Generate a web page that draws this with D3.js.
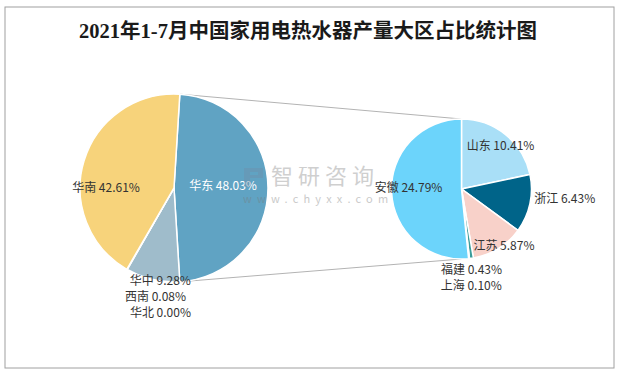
<!DOCTYPE html>
<html>
<head>
<meta charset="utf-8">
<script src="https://cdn.jsdelivr.net/npm/d3@7"></script>
<style>
  body { margin: 0; background: #fff; }
  svg text { font-family: "Noto Sans CJK SC", "Noto Sans", sans-serif; }
</style>
</head>
<body>
<svg id="chart"></svg>
<script>
var width = 619, height = 373;

// main pie: region shares (华东 is split out into the second pie)
const mainNames = ["华东", "华中", "西南", "华北", "华南"];
const mainValues = [48.03, 9.28, 0.08, 0.00, 42.61];
const mainColors = ["#60a3c3", "#9fbccb", "#8fb0c0", "#8fb0c0", "#f7d37b"];

// second pie: provinces of 华东
const subNames = ["山东", "浙江", "江苏", "福建", "上海", "安徽"];
const subValues = [10.41, 6.43, 5.87, 0.43, 0.10, 24.79];
const subColors = ["#a9dff7", "#006489", "#f8d1c9", "#3b9c9a", "#8fd6d6", "#6cd4fb"];

const svg = d3.select("#chart").attr("width", width).attr("height", height);

// frame
svg.append("rect")
    .attr("x", 5).attr("y", 7)
    .attr("width", 609).attr("height", 361)
    .attr("fill", "#fff")
    .attr("stroke", "#a0a0a0")
    .attr("stroke-width", 1);

svg.append("text")
    .attr("x", 308).attr("y", 38)
    .attr("text-anchor", "middle")
    .style("font-family", "'Liberation Serif', 'Noto Sans CJK SC', serif")
    .style("font-weight", "bold")
    .style("font-size", "20.5px")
    .attr("fill", "#1a1a1a")
    .text("2021年1-7月中国家用电热水器产量大区占比统计图");

// geometry
const main = {cx: 174, cy: 188, r: 94};
const sub = {cx: 461.5, cy: 189, r: 70};

const otherShare = mainValues[0] / d3.sum(mainValues);
const mainStart = Math.PI / 2 - otherShare * Math.PI;

const mainPie = d3.pie().sort(null).startAngle(mainStart).endAngle(mainStart + 2 * Math.PI);
const subPie = d3.pie().sort(null);

const mainArcs = mainPie(mainValues);
const subArcs = subPie(subValues);

const mainArc = d3.arc().innerRadius(0).outerRadius(main.r);
const subArc = d3.arc().innerRadius(0).outerRadius(sub.r);
const mainMid = d3.arc().innerRadius(main.r * 0.5).outerRadius(main.r * 0.5);
const subMid = d3.arc().innerRadius(sub.r * 0.5).outerRadius(sub.r * 0.5);

// connector lines from the split slice to the second pie
function polar(c, a) {
    return [c.cx + c.r * Math.sin(a), c.cy - c.r * Math.cos(a)];
}
const p1 = polar(main, mainArcs[0].startAngle);
const p2 = polar(main, mainArcs[0].endAngle);
svg.append("line")
    .attr("x1", p1[0]).attr("y1", p1[1])
    .attr("x2", sub.cx).attr("y2", sub.cy - sub.r)
    .attr("stroke", "#b3b3b3").attr("stroke-width", 1);
svg.append("line")
    .attr("x1", p2[0]).attr("y1", p2[1])
    .attr("x2", sub.cx).attr("y2", sub.cy + sub.r)
    .attr("stroke", "#b3b3b3").attr("stroke-width", 1);

const gMain = svg.append("g").attr("transform", "translate(" + main.cx + "," + main.cy + ")");
gMain.selectAll("path")
    .data(mainArcs)
    .enter()
    .append("path")
    .attr("d", mainArc)
    .attr("fill", (d, i) => mainColors[i])
    .attr("stroke", "#fff")
    .attr("stroke-width", 1.5);

const gSub = svg.append("g").attr("transform", "translate(" + sub.cx + "," + sub.cy + ")");
gSub.selectAll("path")
    .data(subArcs)
    .enter()
    .append("path")
    .attr("d", subArc)
    .attr("fill", (d, i) => subColors[i])
    .attr("stroke", "#fff")
    .attr("stroke-width", 1.5);

// watermark
const wm = svg.append("g").attr("opacity", 0.4);
wm.append("path")
    .attr("d", "M244,168 h19 v10 h-13 v9 h-6 Z M250,172 h8 v3 h-8 Z")
    .attr("fill", "#6f8fa8")
    .attr("fill-rule", "evenodd");
wm.append("text")
    .attr("x", 271).attr("y", 184)
    .style("font-size", "22px")
    .style("letter-spacing", "5px")
    .attr("fill", "#8a8a8a")
    .text("智研咨询");
wm.append("text")
    .attr("x", 243).attr("y", 203)
    .style("font-size", "11px")
    .style("letter-spacing", "5.2px")
    .attr("fill", "#7a7a7a")
    .text("www.chyxx.com");

// label nudges from the mid-radius point of each slice
const mainNudge = [[2, -2], [-3, 47.5], [5, 68], [10, 84], [-23, 13]];
const subNudge = [[17, -16], [69, 2], [24, 27], [5, 46], [6, 62], [-18, -3]];

function fmt(v) { return v.toFixed(2) + "%"; }

gMain.selectAll("text.lbl")
    .data(mainArcs)
    .enter()
    .append("text")
    .attr("class", "lbl")
    .attr("x", (d, i) => mainMid.centroid(d)[0] + mainNudge[i][0])
    .attr("y", (d, i) => mainMid.centroid(d)[1] + mainNudge[i][1])
    .attr("dy", "0.35em")
    .attr("text-anchor", "middle")
    .style("font-size", "12px")
    .attr("fill", (d, i) => i == 0 ? "#ffffff" : "#333333")
    .text((d, i) => mainNames[i] + " " + fmt(mainValues[i]));

gSub.selectAll("text.lbl")
    .data(subArcs)
    .enter()
    .append("text")
    .attr("class", "lbl")
    .attr("x", (d, i) => subMid.centroid(d)[0] + subNudge[i][0])
    .attr("y", (d, i) => subMid.centroid(d)[1] + subNudge[i][1])
    .attr("dy", "0.35em")
    .attr("text-anchor", "middle")
    .style("font-size", "12px")
    .attr("fill", "#333333")
    .text((d, i) => subNames[i] + " " + fmt(subValues[i]));
</script>
</body>
</html>
